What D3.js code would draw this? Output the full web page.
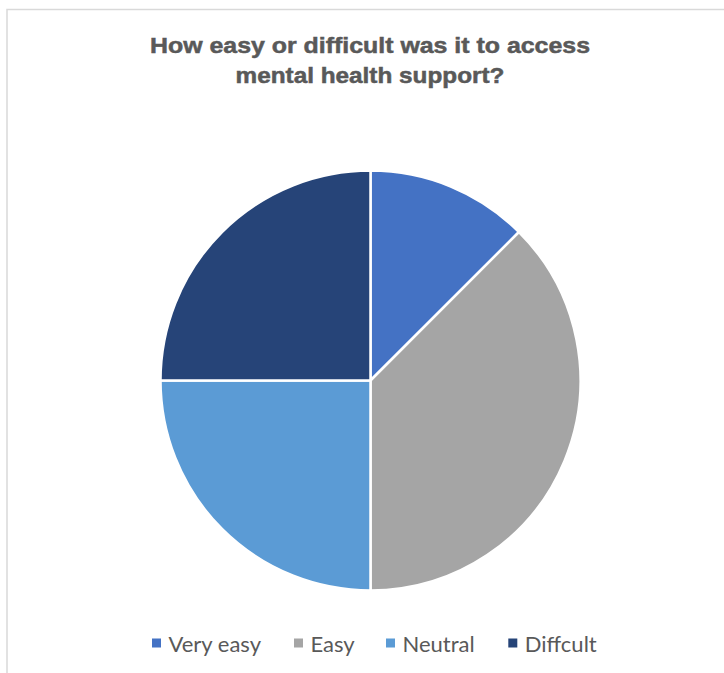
<!DOCTYPE html>
<html><head><meta charset="utf-8">
<script src="https://cdn.jsdelivr.net/npm/d3@7"></script>
<style>html,body{margin:0;padding:0;background:#fff;}</style>
</head><body>
<script>
const categories = ["Very easy", "Easy", "Neutral", "Diffcult"];
const values = [1, 3, 2, 2];
const colors = ["#4472C4", "#A5A5A5", "#5B9BD5", "#264478"];
const titleLines = ["How easy or difficult was it to access", "mental health support?"];

const W = 724, H = 673;
const svg = d3.select("body").append("svg").attr("width", W).attr("height", H);

svg.append("rect").attr("x", 7).attr("y", 9.5).attr("width", W + 10).attr("height", H + 10)
  .attr("fill", "#fff").attr("stroke", "#d9d9d9").attr("stroke-width", 1.5);

const titleW = [440, 269];
svg.append("g").selectAll("text").data(titleLines).join("text")
  .attr("x", 370).attr("y", (d, i) => 53 + i * 30)
  .attr("text-anchor", "middle")
  .attr("font-family", "Liberation Sans, Arial, sans-serif")
  .attr("font-weight", "bold").attr("font-size", 22)
  .attr("textLength", (d, i) => titleW[i]).attr("lengthAdjust", "spacingAndGlyphs")
  .attr("stroke", "#595959").attr("stroke-width", 0.5)
  .attr("fill", "#595959").text(d => d);

const cx = 370.5, cy = 380.5, r = 210;
const pie = d3.pie().sort(null).value(d => d)(values);
const arc = d3.arc().innerRadius(0).outerRadius(r);
svg.append("g").attr("transform", `translate(${cx},${cy})`)
  .selectAll("path").data(pie).join("path")
  .attr("d", arc).attr("fill", (d, i) => colors[i])
  .attr("stroke", "#fff").attr("stroke-width", 2.5).attr("stroke-linejoin", "round");

const legendX = [152, 294, 386, 508.3];
const lg = svg.append("g").selectAll("g").data(categories).join("g")
  .attr("transform", (d, i) => `translate(${legendX[i]},643)`);
lg.append("rect").attr("x", 0).attr("y", -4.5).attr("width", 9).attr("height", 9)
  .attr("fill", (d, i) => colors[i]);
lg.append("text").attr("x", 16.5).attr("y", 8.5)
  .attr("font-family", "Lato, Open Sans, sans-serif").attr("font-size", 22)
  .attr("fill", "#595959").text(d => d);
</script>
</body></html>
